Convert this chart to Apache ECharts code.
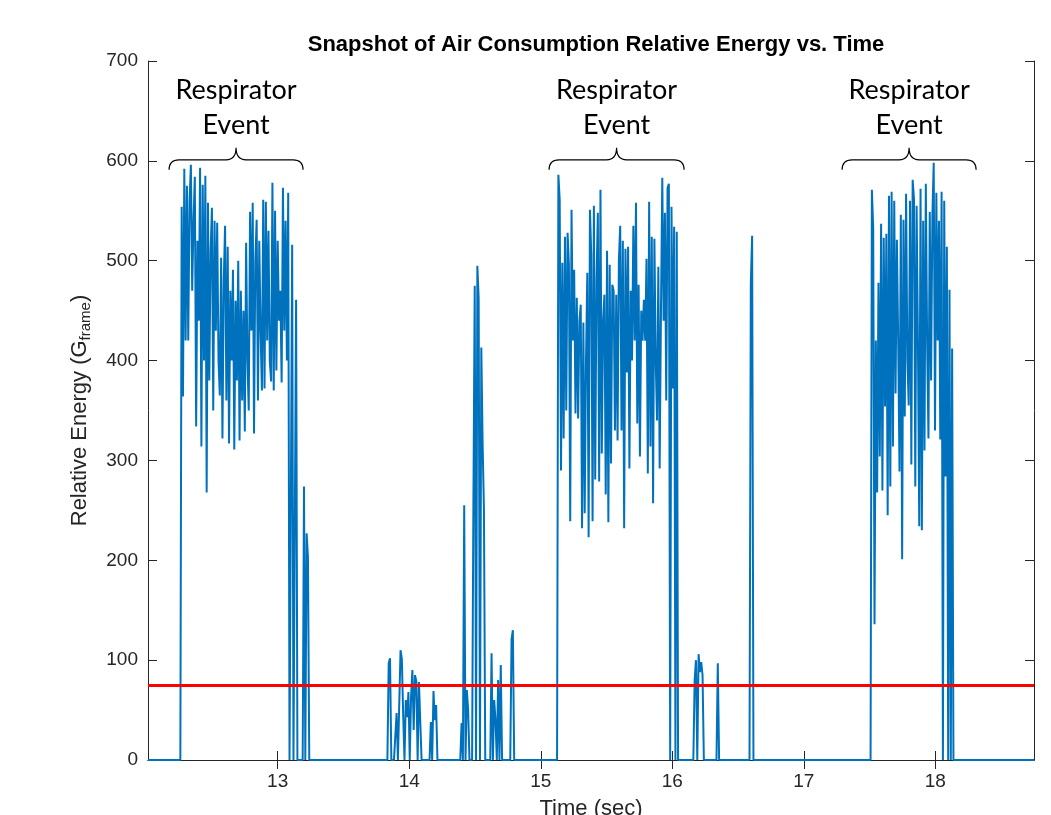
<!DOCTYPE html>
<html>
<head>
<meta charset="utf-8">
<script src="https://cdn.jsdelivr.net/npm/echarts@6/dist/echarts.min.js"></script>
<style>
  html, body { margin: 0; padding: 0; background: #fff; }
  #energyChart { width: 1051px; height: 815px; }
</style>
</head>
<body>
<div id="energyChart"></div>
<script>
// axis range and ticks
var xMin = 12.014;
var xMax = 18.75;
var xTicks = [13, 14, 15, 16, 17, 18];
var threshold = 75;

// frame step (sec) and signal segments: start time + values per frame
var step = 0.01;
var segStarts = [12.270, 13.844, 14.1645, 14.398, 14.626, 14.778, 15.134, 16.170, 16.346, 16.597, 17.5175];

var burst1 = [554, 364, 592, 420, 575, 420, 560, 596, 470, 540, 584, 334, 520, 440, 593, 314,
    576, 400, 585, 268, 558, 380, 510, 553, 350, 540, 430, 538, 400, 365, 503, 322,
    480, 535, 360, 514, 317, 470, 400, 491, 311, 460, 380, 500, 320, 470, 360, 450,
    329, 518, 400, 350, 549, 430, 558, 327, 500, 541, 360, 520, 430, 370, 561, 372,
    559, 420, 530, 400, 379, 578, 370, 550, 390, 520, 440, 470, 378, 573, 430, 540,
    400, 568, 0, 0, 516, 0, 0, 461, 0, 0, 0, 0, 0, 274, 0, 227, 203];
var cluster14a = [97, 102, 0, 0, 0, 0, 47, 0, 0, 110, 101, 45, 0, 60, 43, 68, 0, 63, 90, 30, 85, 79, 0, 78, 38];
var cluster14b = [38, 0, 69, 40, 55];
var cluster14c = [37, 0, 255, 0, 70, 50, 0, 0, 0, 261, 475, 0, 495, 462, 0, 413, 317, 251];
var cluster14d = [107, 0, 60, 40, 0, 80, 0, 95];
var cluster14e = [121, 130];
var burst2 = [586, 561, 290, 498, 322, 524, 350, 528, 496, 239, 551, 420, 491, 347, 463, 342,
    440, 456, 232, 438, 247, 400, 488, 223, 551, 506, 239, 555, 281, 480, 548, 279,
    571, 307, 440, 466, 266, 510, 238, 496, 297, 476, 470, 330, 466, 320, 501, 535,
    330, 520, 232, 512, 388, 514, 292, 470, 400, 535, 420, 558, 337, 476, 304, 450,
    420, 461, 420, 502, 287, 559, 314, 524, 257, 522, 400, 340, 494, 292, 450, 583,
    440, 548, 360, 573, 577, 0, 554, 372, 534, 0, 529];
var cluster16a = [80, 100, 0, 106, 88, 98, 85];
var cluster16b = [97];
var cluster16c = [477, 525];
var burst3 = [571, 533, 136, 420, 268, 478, 304, 537, 270, 523, 354, 527, 245, 565, 274, 569,
    314, 560, 367, 521, 420, 289, 546, 201, 541, 344, 567, 400, 355, 560, 296, 581,
    562, 274, 555, 420, 234, 572, 230, 540, 310, 577, 420, 322, 549, 380, 545, 598,
    330, 568, 420, 540, 321, 569, 0, 560, 284, 514, 0, 471, 0, 412];
var segValues = [burst1, cluster14a, cluster14b, cluster14c, cluster14d, cluster14e,
    burst2, cluster16a, cluster16b, cluster16c, burst3];

// annotations
var eventLabel = 'Respirator\nEvent';
var braceFrom = [12.174, 15.063, 17.291];
var braceTo = [13.193, 16.090, 18.310];
var braceLevel = 601;
var labelLevel = 653;

var axisColor = '#262626';
var fontName = '"Liberation Sans", Arial, sans-serif';

var signal = [[xMin, 0]];
for (var s = 0; s < segStarts.length; s++) {
    var t0 = segStarts[s];
    var vals = segValues[s];
    signal.push([+(t0 - step).toFixed(4), 0]);
    for (var i = 0; i < vals.length; i++) {
        signal.push([+(t0 + i * step).toFixed(4), vals[i]]);
    }
    signal.push([+(t0 + vals.length * step).toFixed(4), 0]);
}
signal.push([xMax, 0]);

var braceData = [];
for (var b = 0; b < braceFrom.length; b++) {
    braceData.push([braceFrom[b], braceTo[b], braceLevel, labelLevel]);
}

function renderBrace(params, api) {
    var p1 = api.coord([api.value(0), api.value(2)]);
    var p2 = api.coord([api.value(1), api.value(2)]);
    var pl = api.coord([(api.value(0) + api.value(1)) / 2, api.value(3)]);
    var x1 = p1[0], x2 = p2[0], y = p1[1], xm = (x1 + x2) / 2;
    var r = 10, tip = 12;
    var d = 'M' + x1 + ' ' + (y + r) +
        ' Q' + x1 + ' ' + y + ' ' + (x1 + r) + ' ' + y +
        ' L' + (xm - r) + ' ' + y +
        ' Q' + xm + ' ' + y + ' ' + xm + ' ' + (y - tip) +
        ' Q' + xm + ' ' + y + ' ' + (xm + r) + ' ' + y +
        ' L' + (x2 - r) + ' ' + y +
        ' Q' + x2 + ' ' + y + ' ' + x2 + ' ' + (y + r);
    return {
        type: 'group',
        children: [
            {
                type: 'path',
                shape: { pathData: d },
                style: { fill: null, stroke: '#000', lineWidth: 1.2 }
            },
            {
                type: 'text',
                style: {
                    text: eventLabel,
                    x: pl[0],
                    y: pl[1],
                    align: 'center',
                    verticalAlign: 'middle',
                    fontFamily: 'Lato, "Open Sans", sans-serif',
                    fontSize: 27,
                    lineHeight: 35,
                    fill: '#000'
                }
            }
        ]
    };
}

var energyChart = echarts.init(document.getElementById('energyChart'));
var energyOption = {
    animation: false,
    backgroundColor: '#fff',
    title: {
        text: 'Snapshot of Air Consumption Relative Energy vs. Time',
        left: 591,
        textAlign: 'center',
        top: 29,
        textStyle: { fontFamily: fontName, fontWeight: 'bold', fontSize: 22, color: '#000' }
    },
    grid: { left: 148, right: 17, top: 61, bottom: 55, containLabel: false, outerBoundsMode: 'none' },
    xAxis: [
        {
            type: 'value',
            min: xMin,
            max: xMax,
            name: 'Time (sec)',
            nameLocation: 'middle',
            nameGap: 38,
            nameTextStyle: { fontFamily: fontName, fontSize: 22, color: axisColor },
            axisLine: { lineStyle: { color: axisColor, width: 1 } },
            axisTick: { inside: true, length: 9, customValues: xTicks, lineStyle: { color: axisColor } },
            axisLabel: { customValues: xTicks, margin: 12, fontFamily: fontName, fontSize: 19, color: axisColor },
            splitLine: { show: false }
        },
        {
            type: 'value',
            position: 'top',
            min: xMin,
            max: xMax,
            axisLine: { lineStyle: { color: axisColor, width: 1 } },
            axisTick: { inside: true, length: 9, customValues: xTicks, lineStyle: { color: axisColor } },
            axisLabel: { show: false },
            splitLine: { show: false }
        }
    ],
    yAxis: [
        {
            type: 'value',
            min: 0,
            max: 700,
            interval: 100,
            name: 'Relative Energy (G{sub|frame})',
            nameLocation: 'middle',
            nameGap: 55,
            nameTextStyle: {
                fontFamily: fontName, fontSize: 22, color: axisColor,
                rich: { sub: { fontFamily: fontName, fontSize: 15, color: axisColor, padding: [12, 0, 0, 0] } }
            },
            axisLine: { show: true, lineStyle: { color: axisColor, width: 1 } },
            axisTick: { show: true, inside: true, length: 9, lineStyle: { color: axisColor } },
            axisLabel: { margin: 10, fontFamily: fontName, fontSize: 19, color: axisColor },
            splitLine: { show: false }
        },
        {
            type: 'value',
            position: 'right',
            min: 0,
            max: 700,
            interval: 100,
            axisLine: { show: true, lineStyle: { color: axisColor, width: 1 } },
            axisTick: { show: true, inside: true, length: 9, lineStyle: { color: axisColor } },
            axisLabel: { show: false },
            splitLine: { show: false }
        }
    ],
    series: [
        {
            type: 'line',
            data: signal,
            showSymbol: false,
            symbol: 'none',
            sampling: null,
            lineStyle: { color: '#0072BD', width: 2 },
            markLine: {
                silent: true,
                symbol: 'none',
                label: { show: false },
                lineStyle: { color: '#ff0000', width: 3, type: 'solid' },
                data: [{ yAxis: threshold }]
            },
            z: 2
        },
        {
            type: 'custom',
            renderItem: renderBrace,
            data: braceData,
            silent: true,
            z: 3
        }
    ]
};
energyChart.setOption(energyOption);
</script>
</body>
</html>
